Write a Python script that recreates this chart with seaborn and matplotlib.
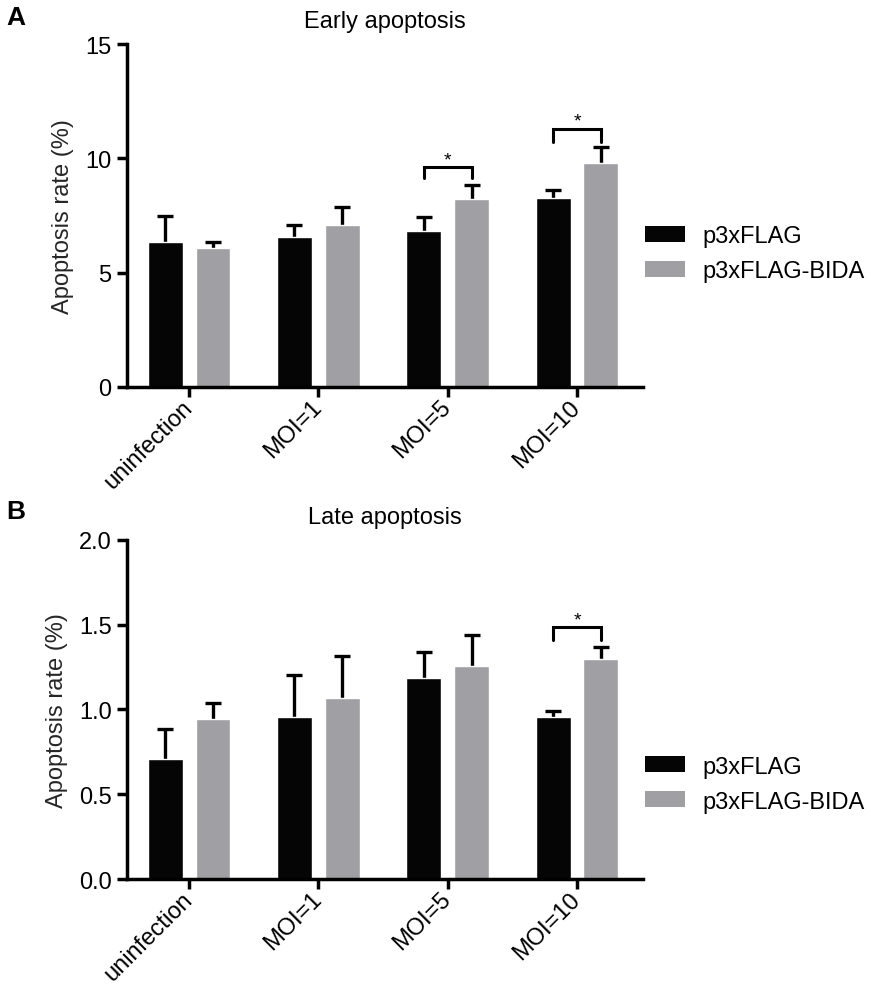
import pandas as pd
import matplotlib
matplotlib.use("Agg")
import matplotlib.pyplot as plt
import seaborn as sns
from matplotlib.patches import Patch

# --- dados ---
groups = ["uninfection", "MOI=1", "MOI=5", "MOI=10"]
vectors = ["p3xFLAG", "p3xFLAG-BIDA"]

early_flag = [6.35, 6.57, 6.83, 8.28]
early_flag_sd = [1.12, 0.52, 0.60, 0.35]
early_bida = [6.06, 7.09, 8.23, 9.78]
early_bida_sd = [0.29, 0.78, 0.59, 0.70]

late_flag = [0.71, 0.957, 1.188, 0.957]
late_flag_sd = [0.177, 0.249, 0.151, 0.033]
late_bida = [0.943, 1.065, 1.257, 1.296]
late_bida_sd = [0.098, 0.253, 0.180, 0.074]

# (grupo, base das pernas, topo do colchete)
early_sig = [(2, 9.15, 9.6), (3, 10.7, 11.3)]
late_sig = [(3, 1.408, 1.486)]

COLORS = ["#050505", "#a0a0a4"]
FS = 17


def draw_panel(ax, flag, flag_sd, bida, bida_sd, sig, yticks, fmt, title, leg_y):
    df = pd.DataFrame({
        "group": groups * 2,
        "vector": [vectors[0]] * 4 + [vectors[1]] * 4,
        "rate": flag + bida,
    })
    sns.barplot(data=df, x="group", y="rate", hue="vector", hue_order=vectors,
                palette=COLORS, width=0.74, gap=0.27, errorbar=None,
                saturation=1, legend=False, ax=ax, zorder=2)

    # barras de erro só para cima (sem a tampa de baixo)
    centers = []
    for cont, sd in zip(ax.containers, [flag_sd, bida_sd]):
        xs = [b.get_x() + b.get_width() / 2 for b in cont]
        hs = [b.get_height() for b in cont]
        centers.append(xs)
        _, caps, _ = ax.errorbar(xs, hs, yerr=[[0] * len(sd), sd], fmt="none",
                                 ecolor="black", elinewidth=2.4, capsize=5.5,
                                 capthick=2.4, zorder=1)
        caps[0].set_visible(False)

    # colchetes de significância
    for g, lo, hi in sig:
        x0, x1 = centers[0][g], centers[1][g]
        ax.plot([x0, x0, x1, x1], [lo, hi, hi, lo], color="black", lw=2.2,
                solid_joinstyle="miter", zorder=3)
        ax.annotate("*", xy=((x0 + x1) / 2, hi), xytext=(0, 2),
                    textcoords="offset points", ha="center", va="baseline",
                    fontsize=14)

    ax.set_xlim(-0.48, 3.51)
    ax.set_ylim(yticks[0], yticks[-1])
    ax.set_yticks(yticks)
    ax.set_yticklabels([fmt.format(t) for t in yticks], fontsize=FS)
    ax.set_xticks(range(len(groups)))
    ax.set_xticklabels(groups, rotation=45, ha="right", va="center",
                       rotation_mode="anchor", fontsize=FS)
    ax.set_xlabel("")
    ax.set_ylabel("Apoptosis rate (%)", fontsize=FS, labelpad=8)
    ax.set_title(title, fontsize=FS, pad=12)

    sns.despine(ax=ax)
    for s in ["left", "bottom"]:
        ax.spines[s].set_linewidth(2.5)
        ax.spines[s].set_color("black")
    ax.tick_params(width=2.5, length=7, pad=4, color="black", labelcolor="black")
    ax.tick_params(axis="x", pad=5)

    handles = [Patch(facecolor=c, edgecolor="none", label=v) for c, v in zip(COLORS, vectors)]
    ax.legend(handles=handles, loc="center left", bbox_to_anchor=(1.003, leg_y),
              frameon=False, fontsize=FS, handlelength=1.7, handleheight=0.65,
              handletextpad=0.75, labelspacing=0.55, borderaxespad=0, borderpad=0)


def main():
    sns.set_style("ticks")
    plt.rcParams["font.family"] = ["Liberation Sans", "DejaVu Sans"]
    plt.rcParams["text.color"] = "black"

    fig = plt.figure(figsize=(8.71, 9.87), dpi=100)
    ax_a = fig.add_axes([0.1458, 0.6069, 0.5924, 0.3475])
    ax_b = fig.add_axes([0.1458, 0.1084, 0.5924, 0.3435])

    draw_panel(ax_a, early_flag, early_flag_sd, early_bida, early_bida_sd, early_sig,
               [0, 5, 10, 15], "{:g}", "Early apoptosis", 0.388)
    draw_panel(ax_b, late_flag, late_flag_sd, late_bida, late_bida_sd, late_sig,
               [0.0, 0.5, 1.0, 1.5, 2.0], "{:.1f}", "Late apoptosis", 0.28)

    fig.text(6 / 871, 1 - 6 / 987, "A", fontsize=19, fontweight="bold", va="top")
    fig.text(6 / 871, 1 - 500 / 987, "B", fontsize=19, fontweight="bold", va="top")

    fig.savefig("out.png", dpi=100)
    plt.close(fig)


if __name__ == "__main__":
    main()
